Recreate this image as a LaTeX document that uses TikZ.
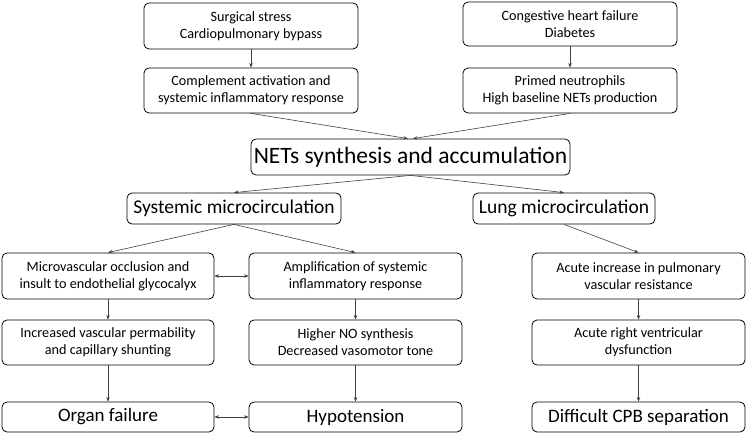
\documentclass[tikz,border=0pt]{standalone}
\usepackage{fontspec}
\setmainfont{Carlito}
\usetikzlibrary{arrows.meta,calc}
\begin{document}
\begin{tikzpicture}[x=1pt,y=-1pt,
  box/.style={draw=black, line width=0.8pt, rounded corners=5pt, align=center, inner sep=0pt, font=\fontsize{14.2}{17}\selectfont},
  small/.style={box, minimum width=214pt, minimum height=45pt},
  mid/.style={box, minimum height=31pt, font=\fontsize{19.5}{22}\selectfont},
  conn/.style={draw=black!75, line width=0.6pt, -{Stealth[length=4.5pt,width=3.5pt]}},
  dconn/.style={draw=black!75, line width=0.6pt, {Stealth[length=4.5pt,width=3.5pt]}-{Stealth[length=4.5pt,width=3.5pt]}}]
\useasboundingbox (0,0) rectangle (747,433);
\node[small, minimum height=46pt] (s1) at (251,26) {Surgical stress\\Cardiopulmonary bypass};
\node[small] (s2) at (251,90.5) {Complement activation and\\systemic inflammatory response};
\node[small, minimum height=44pt] (c1) at (570,24) {Congestive heart failure\\Diabetes};
\node[small] (c2) at (570,90.5) {Primed neutrophils\\High baseline NETs production};
\node[box, minimum width=319pt, minimum height=36pt, font=\fontsize{23.5}{26}\selectfont] (nets) at (410.5,157) {NETs synthesis and accumulation};
\node[mid, minimum width=214pt] (sys) at (234,208.5) {Systemic microcirculation};
\node[mid, minimum width=182pt] (lung) at (564,208.5) {Lung microcirculation};
\node[small, minimum width=212pt, minimum height=46pt] (mv) at (108,276) {Microvascular occlusion and\\insult to endothelial glycocalyx};
\node[small, minimum width=213pt, minimum height=46pt] (amp) at (355.5,276) {Amplification of systemic\\inflammatory response};
\node[small, minimum width=213pt, minimum height=46pt] (acu) at (638.5,276) {Acute increase in pulmonary\\vascular resistance};
\node[small, minimum width=212pt] (inc) at (108,342.5) {Increased vascular permability\\and capillary shunting};
\node[small, minimum width=213pt] (hno) at (355.5,342.5) {Higher NO synthesis\\Decreased vasomotor tone};
\node[small, minimum width=213pt] (arv) at (638.5,342.5) {Acute right ventricular\\dysfunction};
\node[mid, minimum width=212pt, minimum height=30pt, font=\fontsize{19}{22}\selectfont] (org) at (108,417) {Organ failure};
\node[mid, minimum width=213pt, minimum height=30pt, font=\fontsize{19}{22}\selectfont] (hyp) at (355.5,417) {Hypotension};
\node[mid, minimum width=213pt, minimum height=30pt, font=\fontsize{19}{22}\selectfont] (dcpb) at (638.5,417) {Difficult CPB separation};
\draw[conn] (s1) -- (s2);
\draw[conn] (c1) -- (c2);
\draw[conn] (s2.south) -- ($(nets.north)+(-2.5,0)$);
\draw[conn] (c2.south) -- ($(nets.north)+(2.5,0)$);
\draw[conn] (nets.south) -- (sys.north);
\draw[conn] (nets.south) -- (lung.north);
\draw[conn] (sys.south) -- (mv.north);
\draw[conn] (sys.south) -- (amp.north);
\draw[conn] (lung.south) -- (acu.north);
\draw[conn] (mv) -- (inc);
\draw[conn] (amp) -- (hno);
\draw[conn] (acu) -- (arv);
\draw[conn] (inc) -- (org);
\draw[conn] (hno) -- (hyp);
\draw[conn] (arv) -- (dcpb);
\draw[dconn] (mv) -- (amp);
\draw[dconn] (org) -- (hyp);
\end{tikzpicture}
\end{document}
